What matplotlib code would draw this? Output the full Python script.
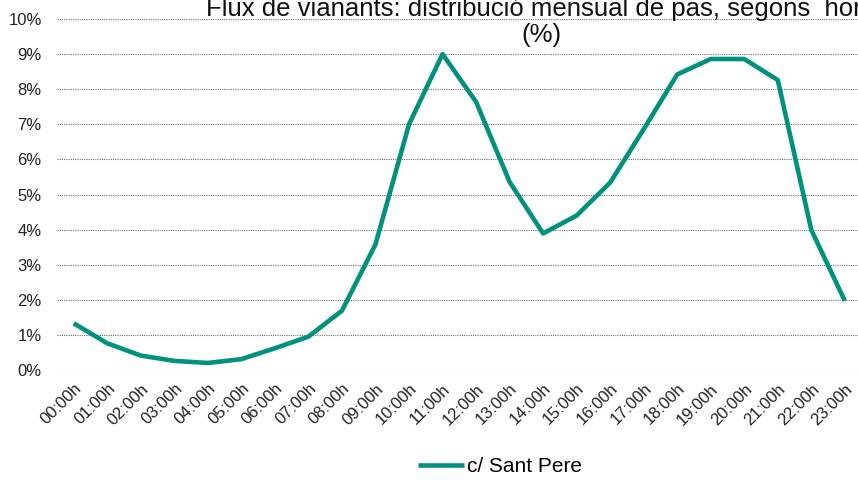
import matplotlib
matplotlib.use("Agg")
import matplotlib.pyplot as plt
from matplotlib.ticker import FuncFormatter

hours = [f"{h:02d}:00h" for h in range(24)]
sant_pere = [1.33, 0.76, 0.41, 0.26, 0.20, 0.31, 0.62, 0.95, 1.69, 3.58,
             7.00, 9.00, 7.64, 5.36, 3.89, 4.40, 5.34, 6.86, 8.42, 8.86,
             8.86, 8.26, 3.99, 1.97]
series_name = "c/ Sant Pere"
title_line1 = "Flux de vianants: distribució mensual de pas, segons  hora"
title_line2 = "(%)"

plt.rcParams['font.family'] = ['Liberation Sans', 'DejaVu Sans']

W, H = 858, 480
fig = plt.figure(figsize=(W / 100, H / 100), dpi=100)
ax = fig.add_axes([57 / W, 1 - 370 / H, (861.6 - 57) / W, (370 - 19) / H])

x = list(range(len(hours)))
color = '#00917F'
ax.plot(x, sant_pere, color=color, lw=3.3, solid_joinstyle='round',
        solid_capstyle='butt', label=series_name, zorder=3)

ax.set_xlim(-0.5, len(hours) - 0.5)
ax.set_ylim(0, 10)
ax.set_yticks(range(0, 11))
ax.yaxis.set_major_formatter(FuncFormatter(lambda v, p: f"{int(v)}%"))
ax.set_xticks(x)
ax.set_xticklabels(hours, rotation=45, ha='right', rotation_mode='anchor')

for s in ax.spines.values():
    s.set_visible(False)
ax.grid(axis='y', color='#6e6e6e', lw=0.8, linestyle=(0, (1, 1)))
ax.set_axisbelow(True)
ax.tick_params(axis='y', length=0, pad=11, labelsize=12, labelcolor='#222222')
ax.tick_params(axis='x', length=0, pad=8, labelsize=12, labelcolor='#222222')

fig.text(541 / W, 1 - 16 / H, title_line1, ha='center', va='baseline',
         fontsize=18.5, color='#111111')
fig.text(541 / W, 1 - 42 / H, title_line2, ha='center', va='baseline',
         fontsize=18.5, color='#111111')

fig.legend(loc='center', bbox_to_anchor=(500 / W, 1 - 467 / H), frameon=False,
           fontsize=15, handlelength=2.2, handletextpad=0.12)

fig.savefig("out.png", dpi=100)
